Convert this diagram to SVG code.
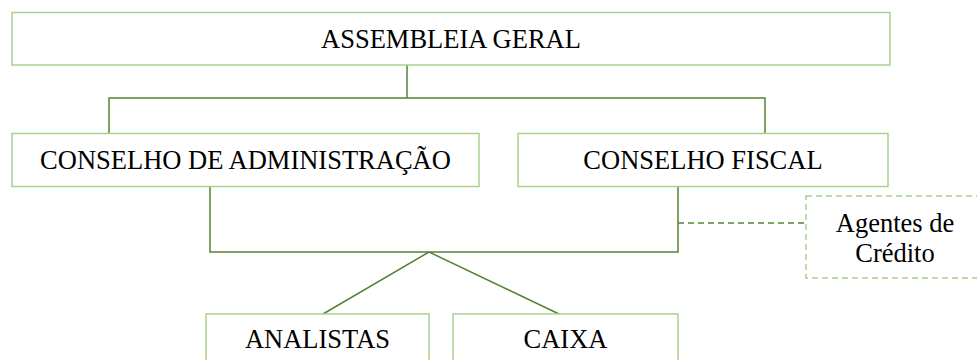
<svg xmlns="http://www.w3.org/2000/svg" width="977" height="360" viewBox="0 0 977 360">
<style>
.box{fill:#ffffff;stroke:#A9D18E;stroke-width:1.5}
.dbox{fill:#ffffff;stroke:#A9D18E;stroke-width:1.5;stroke-dasharray:6,4}
.con{fill:none;stroke:#548235;stroke-width:1.5}
.dcon{fill:none;stroke:#548235;stroke-width:1.5;stroke-dasharray:6,4}
.t{font-family:"Liberation Serif","Times New Roman",serif;font-size:26.5px;fill:#000000;text-anchor:middle}
</style>
<rect width="977" height="360" fill="#ffffff"/>
<g id="connectors">
<path class="con" d="M407,65 V98 M109,133 V98 H765 V133"/>
<path class="con" d="M210,186 V252 H678 V187"/>
<path class="con" d="M429,252 L323,314 M429,252 L559,314"/>
<path class="dcon" d="M678,223 H806"/>
</g>
<g id="assembleia">
<rect class="box" x="12" y="12.5" width="878" height="52.5"/>
<text class="t" x="451" y="48">ASSEMBLEIA GERAL</text>
</g>
<g id="conselho-admin">
<rect class="box" x="12" y="133.5" width="467" height="53"/>
<text class="t" x="245.5" y="169">CONSELHO DE ADMINISTRAÇÃO</text>
</g>
<g id="conselho-fiscal">
<rect class="box" x="518" y="133.5" width="370" height="53"/>
<text class="t" x="703" y="169">CONSELHO FISCAL</text>
</g>
<g id="agentes">
<rect class="dbox" x="806" y="196" width="180" height="82"/>
<text class="t" x="895" y="232">Agentes de</text>
<text class="t" x="895" y="262">Crédito</text>
</g>
<g id="analistas">
<rect class="box" x="206" y="314" width="223" height="60"/>
<text class="t" x="317.5" y="348">ANALISTAS</text>
</g>
<g id="caixa">
<rect class="box" x="453" y="314" width="225" height="60"/>
<text class="t" x="565.5" y="348">CAIXA</text>
</g>
</svg>
